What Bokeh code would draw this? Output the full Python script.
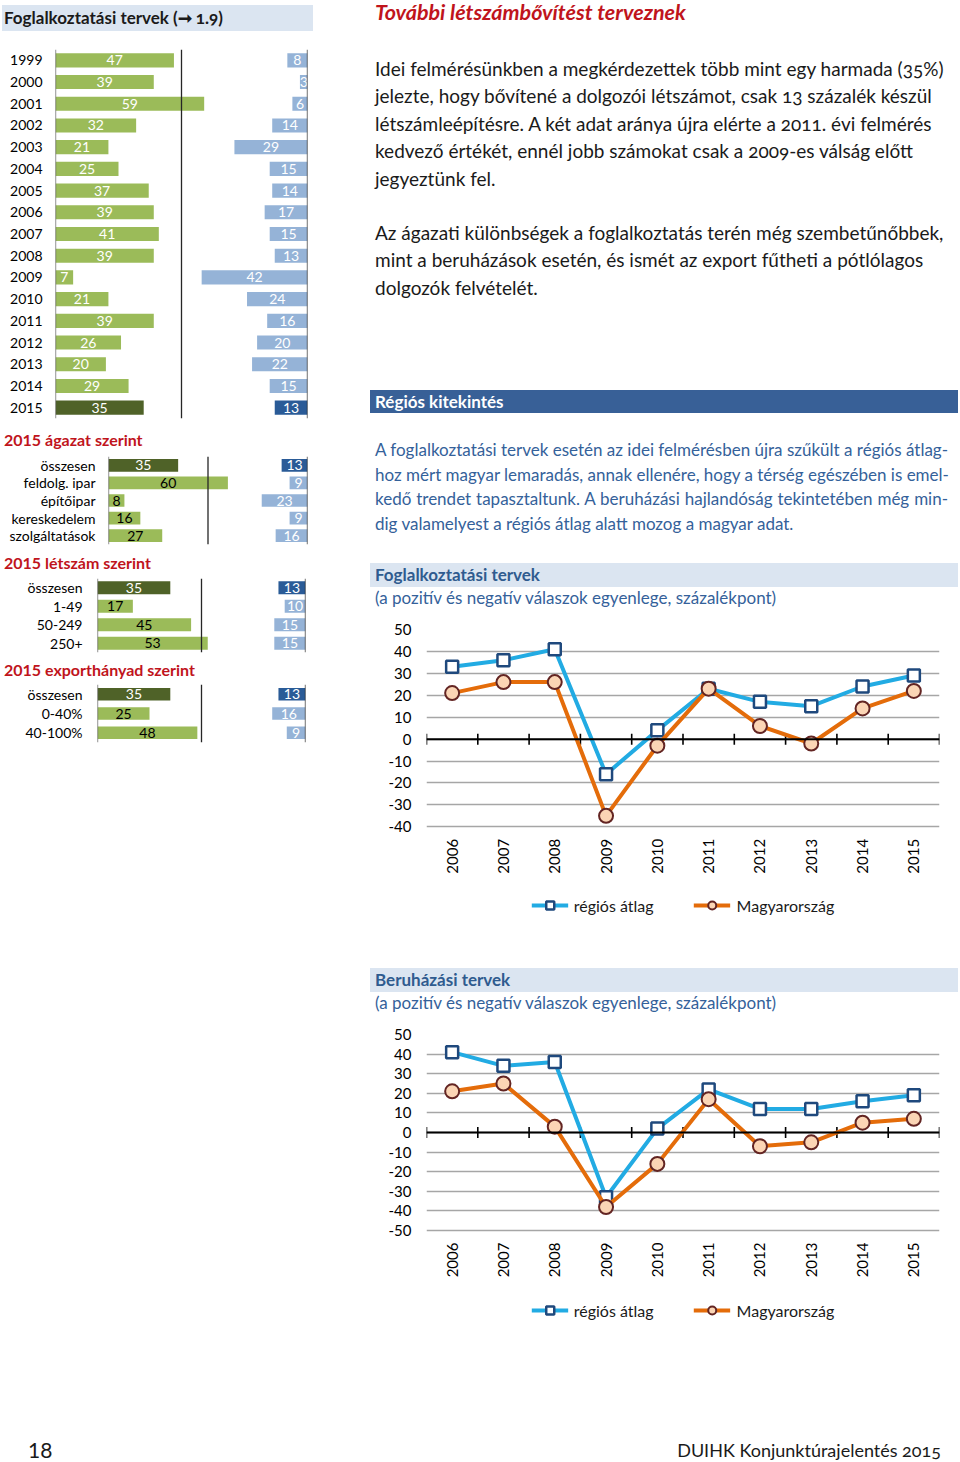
import math
from bokeh.plotting import figure
from bokeh.models import (ColumnDataSource, FactorRange, Range1d, Span, Div,
                          FixedTicker, Legend, LegendItem)
from bokeh.layouts import column, row
from bokeh.embed import file_html
from bokeh.resources import INLINE
from bokeh.core.properties import value

FONT = "Lato"

# ---------------- data ----------------
hist_years = ["1999", "2000", "2001", "2002", "2003", "2004", "2005", "2006", "2007",
              "2008", "2009", "2010", "2011", "2012", "2013", "2014", "2015"]
hist_pos = [47, 39, 59, 32, 21, 25, 37, 39, 41, 39, 7, 21, 39, 26, 20, 29, 35]
hist_neg = [8, 3, 6, 14, 29, 15, 14, 17, 15, 13, 42, 24, 16, 20, 22, 15, 13]

sector_labels = ["összesen", "feldolg. ipar", "építőipar", "kereskedelem", "szolgáltatások"]
sector_pos = [35, 60, 8, 16, 27]
sector_neg = [13, 9, 23, 9, 16]

size_labels = ["összesen", "1-49", "50-249", "250+"]
size_pos = [35, 17, 45, 53]
size_neg = [13, 10, 15, 15]

export_labels = ["összesen", "0-40%", "40-100%"]
export_pos = [35, 25, 48]
export_neg = [13, 16, 9]

line_years = ["2006", "2007", "2008", "2009", "2010", "2011", "2012", "2013", "2014", "2015"]
emp_region = [33, 36, 41, -16, 4, 23, 17, 15, 24, 29]
emp_hu = [21, 26, 26, -35, -3, 23, 6, -2, 14, 22]
inv_region = [41, 34, 36, -33, 2, 22, 12, 12, 16, 19]
inv_hu = [21, 25, 3, -38, -16, 17, -7, -5, 5, 7]

emp_ticks = [-40, -30, -20, -10, 0, 10, 20, 30, 40, 50]
inv_ticks = [-50, -40, -30, -20, -10, 0, 10, 20, 30, 40, 50]

series_names = ["régiós átlag", "Magyarország"]

# ---------------- styles ----------------
GREEN = "#9bbb59"
GREEN_DARK = "#4f6228"
BLUE_BAR = "#95b3d7"
BLUE_DARK = "#2a5b97"
RED = "#c0141c"
LINE_BLUE = "#22abe3"
LINE_ORANGE = "#e46c0a"
TEXT = "#1a1a1a"
HEAD_BLUE = "#386097"
LIGHT_BOX = "#dbe5f1"
SUB_BLUE = "#34619a"
ON = "font-variant-numeric:oldstyle-nums"

LEFT_W = 365
RIGHT_W = 593


def no_align(p):
    try:
        p.frame_align = False
    except Exception:
        pass


def plain_axis(ax, size, standoff):
    ax.axis_line_color = None
    ax.major_tick_line_color = None
    ax.minor_tick_line_color = None
    ax.major_tick_out = 0
    ax.major_tick_in = 0
    ax.minor_tick_out = 0
    ax.minor_tick_in = 0
    ax.major_label_standoff = standoff
    ax.major_label_text_font = FONT
    ax.major_label_text_font_size = f"{size}px"
    ax.major_label_text_color = "black"


def bar_panel(labels, pos, neg, hi, frame_left, frame_w, top, frame_h, bottom,
              bar_h, label_size, standoff, first_style):
    n = len(labels)
    pcol = [GREEN] * n
    ncol = [BLUE_BAR] * n
    pcol[hi] = GREEN_DARK
    ncol[hi] = BLUE_DARK
    if first_style:
        ptxt = ["black"] * n
        ptxt[hi] = "white"
    else:
        ptxt = ["white"] * n
    src = ColumnDataSource(dict(
        cat=labels, pos=pos, neg=neg,
        pos_mid=[v / 2 for v in pos], neg_mid=[v / 2 for v in neg],
        pos_s=[str(v) for v in pos], neg_s=[str(v) for v in neg],
        pcol=pcol, ncol=ncol, ptxt=ptxt))
    p = figure(width=LEFT_W, height=top + frame_h + bottom,
               x_range=Range1d(0, 100), y_range=FactorRange(factors=labels[::-1]),
               output_backend="svg", toolbar_location=None,
               min_border_left=frame_left, min_border_right=LEFT_W - frame_left - frame_w,
               min_border_top=top, min_border_bottom=bottom)
    no_align(p)
    p.extra_x_ranges = {"neg": Range1d(100, 0)}
    p.outline_line_color = None
    p.grid.visible = False
    p.xaxis.visible = False
    p.hbar(y="cat", left=0, right="pos", height=bar_h, fill_color="pcol",
           line_color=None, source=src)
    p.hbar(y="cat", left=0, right="neg", height=bar_h, fill_color="ncol",
           line_color=None, source=src, x_range_name="neg")
    p.text(x="pos_mid", y="cat", text="pos_s", text_align="center", text_baseline="middle",
           text_color="ptxt", text_font=value(FONT), text_font_size=f"{label_size}px",
           source=src)
    p.text(x="neg_mid", y="cat", text="neg_s", text_align="center", text_baseline="middle",
           text_color="white", text_font=value(FONT), text_font_size=f"{label_size}px",
           source=src, x_range_name="neg")
    for loc, col in ((0, "#595959"), (50, "#262626"), (100, "#262626")):
        p.add_layout(Span(location=loc, dimension="height", line_color=col, line_width=1.3))
    plain_axis(p.yaxis[0], label_size, standoff)
    return p


def line_panel(region, hu, ticks, y_bottom, frame_h):
    top, bottom, left, fw = 17, 3, 61, 513
    p = figure(width=RIGHT_W, height=top + frame_h + bottom,
               x_range=FactorRange(factors=line_years), y_range=Range1d(y_bottom, ticks[-1]),
               output_backend="svg", toolbar_location=None,
               min_border_left=left, min_border_right=RIGHT_W - left - fw,
               min_border_top=top, min_border_bottom=bottom)
    no_align(p)
    p.outline_line_color = None
    p.xgrid.visible = False
    p.xaxis.visible = False
    p.yaxis.ticker = FixedTicker(ticks=ticks)
    p.ygrid.ticker = FixedTicker(ticks=ticks)
    p.ygrid.grid_line_color = "#a6a6a6"
    p.ygrid.grid_line_width = 1.5
    ax = p.yaxis[0]
    plain_axis(ax, 15, 15)
    ax.major_label_overrides = {t: str(t) for t in ticks}
    # category labels below the lowest gridline
    p.text(x=line_years, y=[ticks[0]] * len(line_years), text=line_years,
           angle=math.pi / 2, text_align="right", text_baseline="middle", y_offset=12,
           text_font=value(FONT), text_font_size="15px", text_color="black")
    # zero line with tick marks between categories
    p.add_layout(Span(location=0, dimension="width", line_color="black", line_width=2))
    bounds = [(c, -0.5) for c in line_years] + [(line_years[-1], 0.5)]
    p.scatter(x=bounds, y=[0] * len(bounds), marker="dash", angle=math.pi / 2, size=11,
              line_color="black", line_width=1.6)
    bl = p.line(x=line_years, y=region, line_color=LINE_BLUE, line_width=4)
    bs = p.scatter(x=line_years, y=region, marker="square", size=12, fill_color="white",
                   line_color="#1f497d", line_width=2.5)
    ol = p.line(x=line_years, y=hu, line_color=LINE_ORANGE, line_width=4)
    oc = p.scatter(x=line_years, y=hu, marker="circle", size=14, fill_color="#fbd5b5",
                   line_color="#632523", line_width=2)
    leg = Legend(items=[LegendItem(label=series_names[0], renderers=[bl, bs]),
                        LegendItem(label=series_names[1], renderers=[ol, oc])],
                 orientation="horizontal", location="bottom_center",
                 glyph_width=37, glyph_height=20, label_standoff=6, spacing=40,
                 padding=8, margin=10, border_line_color=None,
                 label_text_font=FONT, label_text_font_size="16px",
                 label_text_color=TEXT, background_fill_color="white")
    p.add_layout(leg)
    return p


def txt(left, cy, text, size, color=TEXT, weight="normal", style="normal", lh=None, extra=""):
    lh = lh or round(size * 1.4)
    top = cy - lh / 2
    return (f'<div style="position:absolute;left:{left}px;top:{top}px;height:{lh}px;'
            f'line-height:{lh}px;font-size:{size}px;color:{color};font-weight:{weight};'
            f'font-style:{style};white-space:nowrap;font-family:{FONT};{extra}">{text}</div>')


def jtxt(left, cy, width, text, size, color, last=False):
    lh = round(size * 1.4)
    top = cy - lh / 2
    al = "left" if last else "justify"
    return (f'<div style="position:absolute;left:{left}px;top:{top}px;width:{width}px;height:{lh}px;'
            f'line-height:{lh}px;font-size:{size}px;color:{color};white-space:nowrap;'
            f'text-align:justify;text-align-last:{al};font-family:{FONT}">{text}</div>')


def box(left, top, width, height, color):
    return (f'<div style="position:absolute;left:{left}px;top:{top}px;width:{width}px;'
            f'height:{height}px;background:{color}"></div>')


def block(width, height, inner):
    return Div(width=width, height=height, margin=0,
               text=f'<div style="position:relative;width:{width}px;height:{height}px">{inner}</div>')


# ---------------- left column ----------------
left_title = block(LEFT_W, 35, box(2, 5, 311, 26, LIGHT_BOX) +
                   txt(4, 18, "Foglalkoztatási tervek (➞ 1.9)", 17, TEXT, "bold", extra=ON))
fig_hist = bar_panel(hist_years, hist_pos, hist_neg, len(hist_years) - 1, 55, 252,
                     14, 369, 2, 0.65, 14, 13, False)
head1 = block(LEFT_W, 30, txt(4, 20, "2015 ágazat szerint", 16, RED, "bold"))
fig_sector = bar_panel(sector_labels, sector_pos, sector_neg, 0, 108, 199,
                       6, 88, 4, 0.72, 14, 13, True)
head2 = block(LEFT_W, 24, txt(4, 15, "2015 létszám szerint", 16, RED, "bold"))
fig_size = bar_panel(size_labels, size_pos, size_neg, 0, 97, 208,
                     6, 74, 4, 0.69, 14, 15, True)
head3 = block(LEFT_W, 24, txt(4, 14, "2015 exporthányad szerint", 16, RED, "bold"))
fig_export = bar_panel(export_labels, export_pos, export_neg, 0, 97, 208,
                       4, 58, 4, 0.65, 14, 15, True)
left_col = column(left_title, fig_hist, head1, fig_sector, head2, fig_size, head3, fig_export,
                  spacing=0)

# ---------------- right column ----------------
P = 19
para1 = ["Idei felmérésünkben a megkérdezettek több mint egy harmada (35%)",
         "jelezte, hogy bővítené a dolgozói létszámot, csak 13 százalék készül",
         "létszámleépítésre. A két adat aránya újra elérte a 2011. évi felmérés",
         "kedvező értékét, ennél jobb számokat csak a 2009-es válság előtt",
         "jegyeztünk fel."]
para2 = ["Az ágazati különbségek a foglalkoztatás terén még szembetűnőbbek,",
         "mint a beruházások esetén, és ismét az export fűtheti a pótlólagos",
         "dolgozók felvételét."]
para3 = ["A foglalkoztatási tervek esetén az idei felmérésben újra szűkült a régiós átlag-",
         "hoz mért magyar lemaradás, annak ellenére, hogy a térség egészében is emel-",
         "kedő trendet tapasztaltunk. A beruházási hajlandóság tekintetében még min-",
         "dig valamelyest a régiós átlag alatt mozog a magyar adat."]
inner = txt(10, 12, "További létszámbővítést terveznek", 21.5, RED, "bold", "italic", lh=24)
for i, line in enumerate(para1):
    inner += txt(10, 68 + i * 27.5, line, P, TEXT, extra=ON)
for i, line in enumerate(para2):
    inner += txt(10, 232 + i * 27.5, line, P, TEXT, extra=ON)
inner += box(5, 390, 588, 23, HEAD_BLUE)
inner += txt(10, 401.5, "Régiós kitekintés", 17, "white", "bold")
for i, line in enumerate(para3):
    inner += jtxt(10, 450 + i * 24.7, 573, line, 17, SUB_BLUE, last=(i == len(para3) - 1))
inner += box(5, 563, 588, 24, LIGHT_BOX)
inner += txt(10, 575, "Foglalkoztatási tervek", 17, "#2f5b8f", "bold")
inner += txt(10, 598, "(a pozitív és negatív válaszok egyenlege, százalékpont)", 17, SUB_BLUE)
right_top = block(RIGHT_W, 612, inner)

fig_emp = line_panel(emp_region, emp_hu, emp_ticks, -85, 296)

inner2 = box(5, 40, 588, 24, LIGHT_BOX)
inner2 += txt(10, 52, "Beruházási tervek", 17, "#2f5b8f", "bold")
inner2 += txt(10, 75, "(a pozitív és negatív válaszok egyenlege, százalékpont)", 17, SUB_BLUE)
right_mid = block(RIGHT_W, 89, inner2)

fig_inv = line_panel(inv_region, inv_hu, inv_ticks, -101, 296)
right_col = column(right_top, fig_emp, right_mid, fig_inv, spacing=0)

footer_inner = txt(28, 117, "18", 21, TEXT, lh=20)
footer_inner += (f'<div style="position:absolute;right:17px;top:107px;height:20px;line-height:20px;'
                 f'font-size:18px;color:{TEXT};white-space:nowrap;font-family:{FONT};{ON}">'
                 f'DUIHK Konjunktúrajelentés 2015</div>')
footer = block(LEFT_W + RIGHT_W, 125, footer_inner)

page = column(row(left_col, right_col, spacing=0), footer, spacing=0)

open("out.html", "w").write(file_html(page, INLINE))
